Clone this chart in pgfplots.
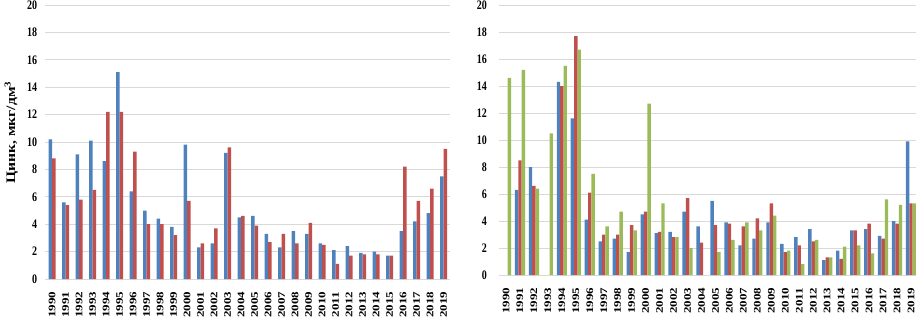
\documentclass[border=0pt]{standalone}
\usepackage{fontspec}
\setmainfont{Liberation Serif}
\usepackage{pgfplots}
\usepackage{pgfplotstable}
\pgfplotsset{compat=1.18}
\definecolor{cblue}{HTML}{4F81BD}
\definecolor{cred}{HTML}{C0504D}
\definecolor{cgreen}{HTML}{9BBB59}
\definecolor{cgrid}{HTML}{D9D9D9}

\pgfplotstableread{
x b r
0 10.2 8.8
1 5.6 5.4
2 9.1 5.8
3 10.1 6.5
4 8.6 12.2
5 15.1 12.2
6 6.4 9.3
7 5.0 4.0
8 4.4 4.0
9 3.8 3.2
10 9.8 5.7
11 2.3 2.6
12 2.6 3.7
13 9.2 9.6
14 4.5 4.6
15 4.6 3.9
16 3.3 2.7
17 2.3 3.3
18 3.5 2.6
19 3.3 4.1
20 2.6 2.5
21 2.1 1.1
22 2.4 1.7
23 1.9 1.8
24 2.0 1.8
25 1.7 1.7
26 3.5 8.2
27 4.2 5.7
28 4.8 6.6
29 7.5 9.5
}\lefttab

\pgfplotstableread{
x b r g
0 nan nan 14.6
1 6.3 8.5 15.2
2 8.0 6.6 6.4
3 nan nan 10.5
4 14.3 14.0 15.5
5 11.6 17.7 16.7
6 4.1 6.1 7.5
7 2.5 3.0 3.6
8 2.7 3.0 4.7
9 1.7 3.7 3.3
10 4.5 4.7 12.7
11 3.1 3.2 5.3
12 3.2 2.8 2.8
13 4.7 5.7 2.0
14 3.6 2.4 nan
15 5.5 3.7 1.7
16 3.9 3.8 2.6
17 2.2 3.6 3.9
18 2.7 4.2 3.3
19 3.9 5.3 4.4
20 2.3 1.7 1.8
21 2.8 2.2 0.8
22 3.4 2.5 2.6
23 1.1 1.3 1.3
24 1.8 1.2 2.1
25 3.3 3.3 2.2
26 3.4 3.8 1.6
27 2.9 2.7 5.6
28 4.0 3.8 5.2
29 9.9 5.3 5.3
}\righttab

\pgfplotsset{
  zinc/.style={
    scale only axis,
    ybar=0pt,
    ymin=0, ymax=20,
    ytick={0,2,...,20},
    xmin=-0.5, xmax=29.5,
    xtick={0,...,29},
    xticklabel={\pgfmathtruncatemacro\yr{\tick+1990}\yr},
    axis line style={draw=none},
    major tick length=0pt,
    ymajorgrids,
    grid style={draw=cgrid, line width=0.9pt},
    /pgf/number format/assume math mode=true,
    xticklabel style={font=\fontsize{10}{12}\bfseries\selectfont, inner sep=0pt, yshift=-12.5pt, yscale=1.3, rotate=90, anchor=east},
    yticklabel style={font=\fontsize{10}{12}\bfseries\selectfont, inner sep=0pt, yscale=1.3, anchor=east},
    every axis plot/.append style={draw=none},
  }
}

\begin{document}
\begin{tikzpicture}
\path[use as bounding box] (0pt,0pt) rectangle (916pt,-319pt);

\begin{axis}[zinc,
  at={(45.3pt,-279pt)}, anchor=south west,
  width=405pt, height=274pt,
  bar width=3.5pt,
  yticklabel style={xshift=-8pt},
  ylabel={Цинк, мкг/дм\textsuperscript{3}},
  ylabel style={at={(axis description cs:-0.084,0.535)}, anchor=center, font=\fontsize{13}{15}\bfseries\selectfont, xscale=1.2},
]
\addplot[fill=cblue] table[x=x, y=b] {\lefttab};
\addplot[fill=cred] table[x=x, y=r] {\lefttab};
\end{axis}

\begin{axis}[zinc,
  at={(499pt,-275pt)}, anchor=south west,
  width=419pt, height=270pt,
  bar width=3.4pt,
  yticklabel style={xshift=-12pt},
]
\addplot[fill=cblue] table[x=x, y=b] {\righttab};
\addplot[fill=cred] table[x=x, y=r] {\righttab};
\addplot[fill=cgreen] table[x=x, y=g] {\righttab};
\end{axis}
\end{tikzpicture}
\end{document}
